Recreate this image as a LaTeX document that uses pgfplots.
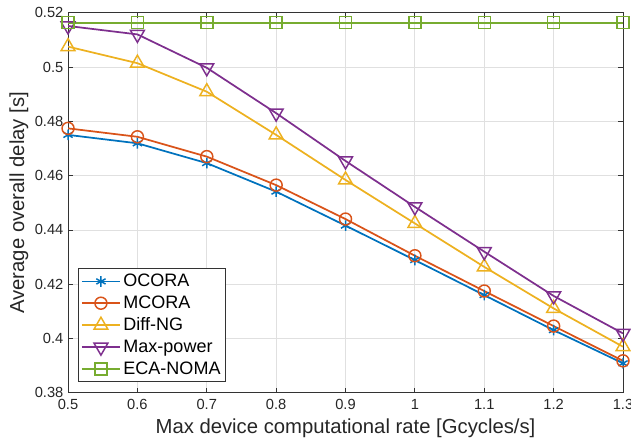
\documentclass[border=0pt]{standalone}
\usepackage{pgfplots}
\pgfplotsset{compat=1.18}
\usepackage{fontspec}
\setmainfont{Liberation Sans}

\definecolor{cA}{rgb}{0,0.447,0.741}
\definecolor{cB}{rgb}{0.85,0.325,0.098}
\definecolor{cC}{rgb}{0.929,0.694,0.125}
\definecolor{cD}{rgb}{0.494,0.184,0.556}
\definecolor{cE}{rgb}{0.466,0.674,0.188}

\begin{document}
\begin{tikzpicture}
\begin{axis}[
  scale only axis,
  width=416pt, height=285pt,
  xmin=0.5, xmax=1.3, ymin=0.38, ymax=0.52,
  xtick={0.5,0.6,0.7,0.8,0.9,1,1.1,1.2,1.3},
  ytick={0.38,0.4,0.42,0.44,0.46,0.48,0.5,0.52},
  grid=major,
  major grid style={black!12, line width=0.6pt},
  tick align=inside,
  xtick pos=both, ytick pos=both,
  major tick length=4pt,
  axis line style={black!80, line width=0.6pt},
  every tick/.style={black!80, line width=0.6pt},
  /pgf/number format/assume math mode=true,
  tick label style={font=\fontsize{11}{13}\selectfont, text=black!85},
  xticklabel style={yshift=-1.5pt},
  label style={font=\fontsize{15.2}{18}\selectfont, text=black!85},
  xlabel={Max device computational rate [Gcycles/s]},
  ylabel={Average overall delay [s]},
  xlabel style={yshift=0pt},
  ylabel style={yshift=-2pt},
  every axis plot/.append style={line width=1.3pt},
  legend style={at={(0.018,0.029)}, anchor=south west,
    font=\fontsize{13.5}{16}\selectfont, draw=black!80, line width=0.6pt,
    inner sep=2pt, row sep=1.4pt},
  legend cell align=left,
  legend image code/.code={
    \draw[mark repeat=2, mark phase=2] plot coordinates {(0cm,0cm) (0.5cm,0cm) (1cm,0cm)};
  },
]
\addplot[cA, mark=asterisk, mark size=4pt, mark options={line width=1.1pt}] coordinates {
  (0.5,0.4750) (0.6,0.4719) (0.7,0.4646) (0.8,0.4541) (0.9,0.4416)
  (1.0,0.4289) (1.1,0.4160) (1.2,0.4031) (1.3,0.3909)};
\addlegendentry{OCORA}
\addplot[cB, mark=o, mark size=4.5pt, mark options={line width=1.1pt}] coordinates {
  (0.5,0.4774) (0.6,0.4743) (0.7,0.4670) (0.8,0.4565) (0.9,0.4440)
  (1.0,0.4305) (1.1,0.4175) (1.2,0.4046) (1.3,0.3918)};
\addlegendentry{MCORA}
\addplot[cC, mark=triangle, mark size=6pt, mark options={line width=1.1pt}] coordinates {
  (0.5,0.5075) (0.6,0.5014) (0.7,0.4909) (0.8,0.4750) (0.9,0.4584)
  (1.0,0.4424) (1.1,0.4264) (1.2,0.4111) (1.3,0.3970)};
\addlegendentry{Diff-NG}
\addplot[cD, mark=triangle, mark size=6pt, mark options={line width=1.1pt, rotate=180}] coordinates {
  (0.5,0.5151) (0.6,0.5120) (0.7,0.4997) (0.8,0.4830) (0.9,0.4654)
  (1.0,0.4485) (1.1,0.4320) (1.2,0.4157) (1.3,0.4019)};
\addlegendentry{Max-power}
\addplot[cE, mark=square, mark size=4.5pt, mark options={line width=1.1pt}] coordinates {
  (0.5,0.5163) (0.6,0.5163) (0.7,0.5163) (0.8,0.5163) (0.9,0.5163)
  (1.0,0.5163) (1.1,0.5163) (1.2,0.5163) (1.3,0.5163)};
\addlegendentry{ECA-NOMA}
\end{axis}
\pgfresetboundingbox
\path[use as bounding box]
  ([xshift=-51pt,yshift=-37.5pt]current axis.south west)
  rectangle ([xshift=6pt,yshift=9.5pt]current axis.north east);
\end{tikzpicture}
\end{document}
